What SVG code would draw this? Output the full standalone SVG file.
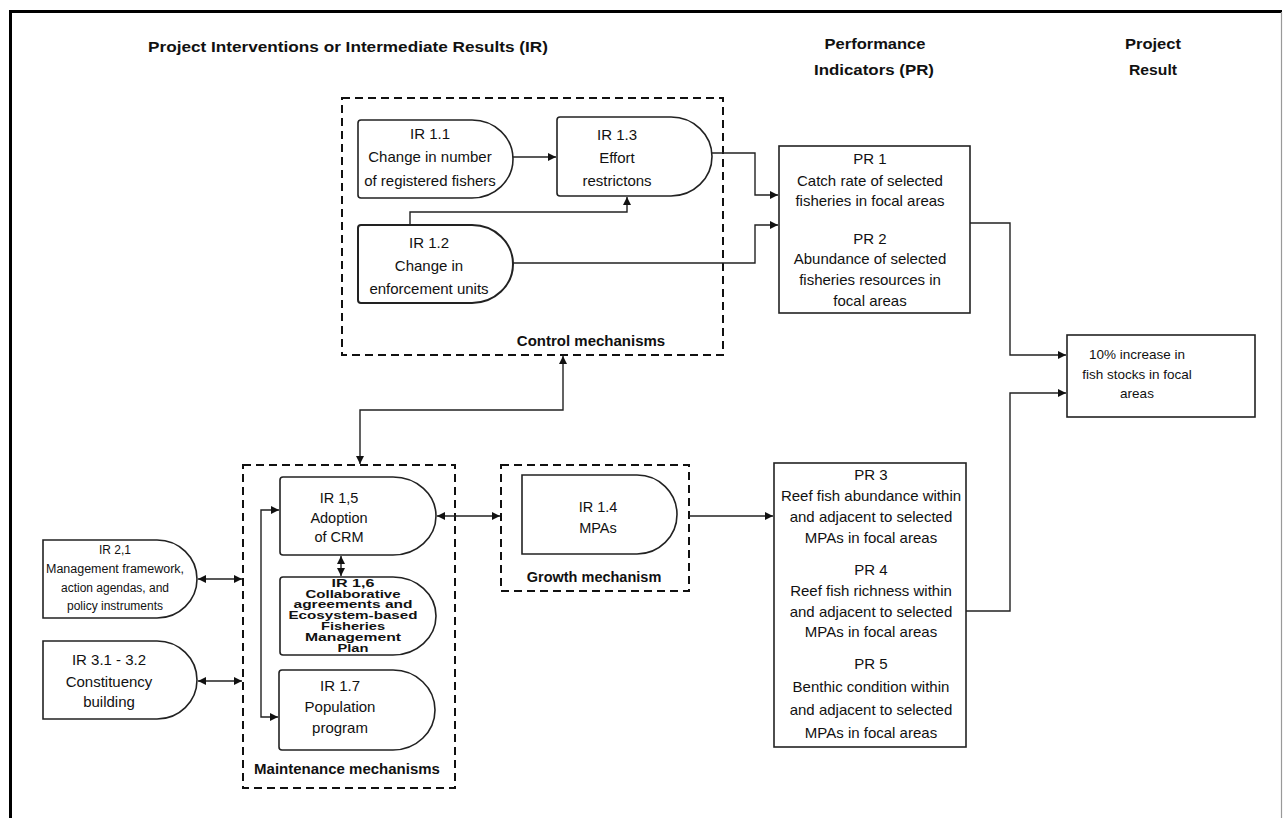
<svg xmlns="http://www.w3.org/2000/svg" width="1283" height="818" viewBox="0 0 1283 818">
<defs>
<marker id="ah" viewBox="0 0 8 8" refX="8" refY="4" markerWidth="8" markerHeight="8" markerUnits="userSpaceOnUse" orient="auto-start-reverse"><path d="M0,0 L8,4 L0,8 z" fill="#111"/></marker>
<style>
.t{font-family:"Liberation Sans",Arial,sans-serif;font-size:15px;fill:#111;text-anchor:middle}
.r{font-family:"Liberation Sans",Arial,sans-serif;font-size:13.5px;fill:#111;text-anchor:middle}
.b{font-family:"Liberation Sans",Arial,sans-serif;font-weight:bold;font-size:15px;fill:#111;text-anchor:middle}
.s{font-family:"Liberation Sans",Arial,sans-serif;font-weight:bold;font-size:10px;fill:#111;text-anchor:middle}
.box{fill:#fff;stroke:#222;stroke-width:1.6}
.dash{fill:none;stroke:#111;stroke-width:2;stroke-dasharray:8 5}
.c{fill:none;stroke:#222;stroke-width:1.4}
</style>
</defs>
<rect width="1283" height="818" fill="#fff"/>
<g id="frame">
<path d="M10.5,818 V11.5 H1282" fill="none" stroke="#000" stroke-width="3"/>
<line x1="1281.5" y1="12" x2="1281.5" y2="818" stroke="#999" stroke-width="1.2"/>
</g>
<g id="headers">
<text class="b" x="348" y="52" textLength="400" lengthAdjust="spacingAndGlyphs">Project Interventions or Intermediate Results (IR)</text>
<text class="b" x="875" y="49" textLength="101" lengthAdjust="spacingAndGlyphs">Performance</text>
<text class="b" x="874" y="75" textLength="120" lengthAdjust="spacingAndGlyphs">Indicators (PR)</text>
<text class="b" x="1153" y="49" textLength="56" lengthAdjust="spacingAndGlyphs">Project</text>
<text class="b" x="1153" y="75" textLength="48" lengthAdjust="spacingAndGlyphs">Result</text>
</g>
<g id="control-group">
<rect class="dash" x="342" y="98" width="381" height="257"/>
<text class="b" x="591" y="346">Control mechanisms</text>
</g>
<g id="ir11">
<path class="box" d="M361,120 H472 A41,39 0 0 1 472,198 H361 Q358,198 358,195 V123 Q358,120 361,120 Z"/>
<text class="t" x="430" y="139">IR 1.1</text>
<text class="t" x="430" y="162">Change in number</text>
<text class="t" x="430" y="186">of registered fishers</text>
</g>
<g id="ir13">
<path class="box" d="M560,117 H671 A41,39.5 0 0 1 671,196 H560 Q557,196 557,193 V120 Q557,117 560,117 Z"/>
<text class="t" x="617" y="140">IR 1.3</text>
<text class="t" x="617" y="163">Effort</text>
<text class="t" x="617" y="186">restrictons</text>
</g>
<g id="ir12">
<path class="box" style="stroke-width:2" d="M361,225 H472 A41,39 0 0 1 472,303 H361 Q358,303 358,300 V228 Q358,225 361,225 Z"/>
<text class="t" x="429" y="248">IR 1.2</text>
<text class="t" x="429" y="271">Change in</text>
<text class="t" x="429" y="294">enforcement units</text>
</g>
<g id="pr12">
<rect class="box" x="779" y="146" width="191" height="167"/>
<text class="t" x="870" y="164">PR 1</text>
<text class="t" x="870" y="186">Catch rate of selected</text>
<text class="t" x="870" y="206">fisheries in focal areas</text>
<text class="t" x="870" y="244">PR 2</text>
<text class="t" x="870" y="264">Abundance of selected</text>
<text class="t" x="870" y="285">fisheries resources in</text>
<text class="t" x="870" y="306">focal areas</text>
</g>
<g id="result">
<rect class="box" x="1067" y="335" width="188" height="82"/>
<text class="r" x="1137" y="359">10% increase in</text>
<text class="r" x="1137" y="379">fish stocks in focal</text>
<text class="r" x="1137" y="398">areas</text>
</g>
<g id="maintenance-group">
<rect class="dash" x="243" y="465" width="212" height="323"/>
<text class="b" x="347" y="774">Maintenance mechanisms</text>
</g>
<g id="ir15">
<path class="box" d="M283,477 H393 A43,39 0 0 1 393,555 H283 Q280,555 280,552 V480 Q280,477 283,477 Z"/>
<text class="t" style="font-size:14.5px" x="339" y="503">IR 1,5</text>
<text class="t" style="font-size:14.5px" x="339" y="523">Adoption</text>
<text class="t" style="font-size:14.5px" x="339" y="542">of CRM</text>
</g>
<g id="ir16">
<path class="box" d="M283,577 H393 A43,39 0 0 1 393,655 H283 Q280,655 280,652 V580 Q280,577 283,577 Z"/>
<text class="s" x="353" y="587" textLength="43" lengthAdjust="spacingAndGlyphs">IR 1,6</text>
<text class="s" x="353" y="598" textLength="95" lengthAdjust="spacingAndGlyphs">Collaborative</text>
<text class="s" x="353" y="608" textLength="119" lengthAdjust="spacingAndGlyphs">agreements and</text>
<text class="s" x="353" y="619" textLength="129" lengthAdjust="spacingAndGlyphs">Ecosystem-based</text>
<text class="s" x="353" y="630" textLength="64" lengthAdjust="spacingAndGlyphs">Fisheries</text>
<text class="s" x="353" y="641" textLength="96" lengthAdjust="spacingAndGlyphs">Management</text>
<text class="s" x="353" y="652" textLength="31" lengthAdjust="spacingAndGlyphs">Plan</text>
</g>
<g id="ir17">
<path class="box" d="M282,670 H393 A42,40 0 0 1 393,750 H282 Q279,750 279,747 V673 Q279,670 282,670 Z"/>
<text class="t" x="340" y="691">IR 1.7</text>
<text class="t" x="340" y="712">Population</text>
<text class="t" x="340" y="733">program</text>
</g>
<g id="ir21">
<path class="box" d="M43,540 H157 A40,39 0 0 1 157,618 H43 Z"/>
<text class="t" style="font-size:12px" x="115" y="554">IR 2,1</text>
<text class="t" style="font-size:12px" x="115" y="573" textLength="138" lengthAdjust="spacingAndGlyphs">Management framework,</text>
<text class="t" style="font-size:12px" x="115" y="592">action agendas, and</text>
<text class="t" style="font-size:12px" x="115" y="610">policy instruments</text>
</g>
<g id="ir31">
<path class="box" d="M43,641 H157 A40,39 0 0 1 157,719 H43 Z"/>
<text class="t" x="109" y="665">IR 3.1 - 3.2</text>
<text class="t" x="109" y="687">Constituency</text>
<text class="t" x="109" y="707">building</text>
</g>
<g id="growth-group">
<rect class="dash" x="501" y="465" width="188" height="126"/>
<text class="b" style="font-size:14.5px" x="594" y="582">Growth mechanism</text>
</g>
<g id="ir14">
<path class="box" d="M522,475 H637 A40,39.5 0 0 1 637,554 H522 Z"/>
<text class="t" style="font-size:14.5px" x="598" y="512">IR 1.4</text>
<text class="t" style="font-size:14.5px" x="598" y="533">MPAs</text>
</g>
<g id="pr345">
<rect class="box" x="774" y="463" width="192" height="284"/>
<text class="t" x="871" y="480">PR 3</text>
<text class="t" x="871" y="501">Reef fish abundance within</text>
<text class="t" x="871" y="522">and adjacent to selected</text>
<text class="t" x="871" y="543">MPAs in focal areas</text>
<text class="t" x="871" y="575">PR 4</text>
<text class="t" x="871" y="596">Reef fish richness within</text>
<text class="t" x="871" y="617">and adjacent to selected</text>
<text class="t" x="871" y="637">MPAs in focal areas</text>
<text class="t" x="871" y="669">PR 5</text>
<text class="t" x="871" y="692">Benthic condition within</text>
<text class="t" x="871" y="715">and adjacent to selected</text>
<text class="t" x="871" y="738">MPAs in focal areas</text>
</g>
<g id="connectors">
<path class="c" d="M513,157 H556" marker-end="url(#ah)"/>
<path class="c" d="M410,225 V212 H627 V197" marker-end="url(#ah)"/>
<path class="c" d="M712,153 H755 V195 H778" marker-end="url(#ah)"/>
<path class="c" d="M513,263 H755 V225 H778" marker-end="url(#ah)"/>
<path class="c" d="M563,356 V410 H360 V464" marker-start="url(#ah)" marker-end="url(#ah)"/>
<path class="c" d="M341,556 V576" marker-start="url(#ah)" marker-end="url(#ah)"/>
<path class="c" d="M279,510 H261 V717 H278" marker-start="url(#ah)" marker-end="url(#ah)"/>
<path class="c" d="M198,579 H242" marker-start="url(#ah)" marker-end="url(#ah)"/>
<path class="c" d="M198,681 H242" marker-start="url(#ah)" marker-end="url(#ah)"/>
<path class="c" d="M437,516 H500" marker-start="url(#ah)" marker-end="url(#ah)"/>
<path class="c" d="M689,516 H773" marker-end="url(#ah)"/>
<path class="c" d="M970,223 H1010 V355 H1066" marker-end="url(#ah)"/>
<path class="c" d="M966,611 H1010 V393 H1066" marker-end="url(#ah)"/>
</g>
</svg>
